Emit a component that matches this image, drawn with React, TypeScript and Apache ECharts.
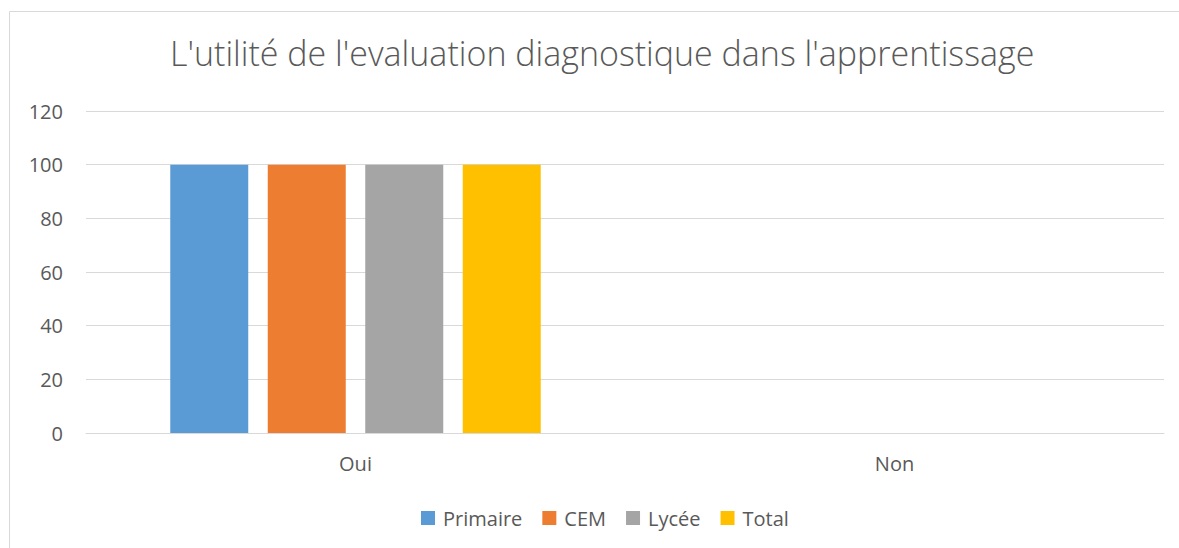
import React, { useEffect, useRef } from "react";
import * as echarts from "echarts";

const categories = ["Oui", "Non"];
const seriesNames = ["Primaire", "CEM", "Lycée", "Total"];
const primaire = [100, 0];
const cem = [100, 0];
const lycee = [100, 0];
const total = [100, 0];
const colors = ["#5b9bd5", "#ed7d31", "#a5a5a5", "#ffc000"];
const titleText = "L'utilité de l'evaluation diagnostique dans l'apprentissage";

export default function App() {
  const ref = useRef<HTMLDivElement>(null);
  useEffect(() => {
    if (!ref.current) return;
    const chart = echarts.init(ref.current, undefined, { renderer: "svg" });
    const values = [primaire, cem, lycee, total];
    chart.setOption({
      animation: false,
      backgroundColor: "#ffffff",
      textStyle: { fontFamily: "Open Sans" },
      title: {
        text: titleText,
        left: 165,
        top: 31,
        textStyle: { fontSize: 34, fontWeight: 300, color: "#595959", fontFamily: "Open Sans" },
      },
      graphic: [
        {
          type: "rect",
          shape: { x: 9.5, y: 11.5, width: 1200, height: 600 },
          style: { fill: "none", stroke: "#d9d9d9", lineWidth: 1 },
          silent: true,
        },
      ],
      legend: {
        data: seriesNames,
        top: 503,
        left: 416,
        itemWidth: 14,
        itemHeight: 14,
        itemGap: 20,
        icon: "rect",
        textStyle: { fontSize: 20, color: "#595959", fontFamily: "Open Sans", padding: [0, 0, 0, 3] },
      },
      grid: { left: 86, right: 15, top: 111, bottom: 115, containLabel: false },
      xAxis: {
        type: "category",
        data: categories,
        axisLine: { lineStyle: { color: "#d9d9d9", width: 1 } },
        axisTick: { show: false },
        axisLabel: { fontSize: 20, color: "#595959", margin: 20 },
      },
      yAxis: {
        type: "value",
        min: 0,
        max: 120,
        interval: 20,
        axisLine: { show: false },
        axisTick: { show: false },
        splitLine: { lineStyle: { color: "#d9d9d9", width: 1 } },
        axisLabel: { fontSize: 20, color: "#595959", margin: 23 },
      },
      series: seriesNames.map((name, i) => ({
        name,
        type: "bar",
        data: values[i],
        barWidth: 78,
        barGap: "25%",
        itemStyle: { color: colors[i] },
      })),
    });
    return () => chart.dispose();
  }, []);
  return (
    <div
      ref={ref}
      style={{ position: "absolute", left: 0, top: 0, width: 1179, height: 548 }}
    />
  );
}
